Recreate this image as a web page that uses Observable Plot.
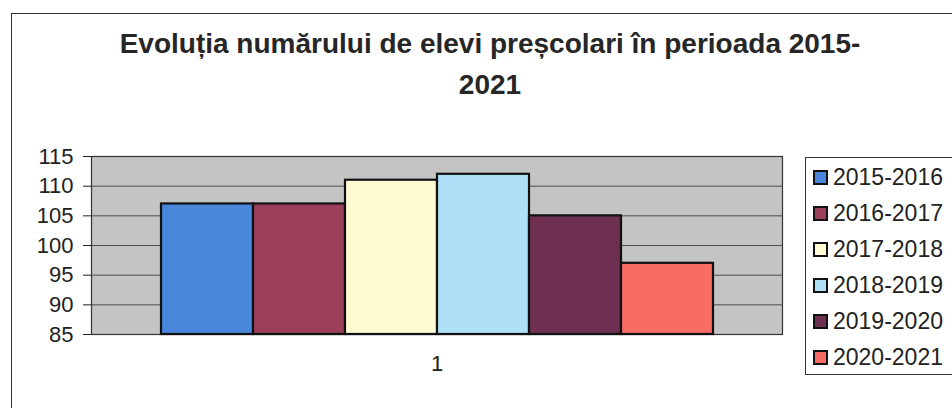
<!DOCTYPE html>
<html>
<head>
<meta charset="utf-8">
<script src="https://cdn.jsdelivr.net/npm/d3@7"></script>
<script src="https://cdn.jsdelivr.net/npm/@observablehq/plot@0.6"></script>
<style>
  html, body { margin: 0; padding: 0; background: #fff; }
  #wrap { position: relative; width: 952px; height: 408px; overflow: hidden; font-family: "Liberation Sans", Arial, sans-serif; color: #222; }
  #border { position: absolute; left: 11px; top: 13px; width: 1100px; height: 600px; border: 1px solid #333; box-sizing: border-box; }
  #title { position: relative; height: 120px; width: 980px; box-sizing: border-box; padding-top: 23px; text-align: center; font-weight: bold; font-size: 28px; line-height: 41px; color: #262626; }
  #chart { position: relative; }
  #legend { position: absolute; left: 805px; top: 157px; width: 170px; height: 218px; border: 1px solid #333; background: #fff; box-sizing: border-box; padding-top: 1px; }
  .item { height: 36px; display: flex; align-items: center; font-size: 23px; color: #222; }
  .sw { width: 11px; height: 11px; border: 2px solid #111; margin-left: 7px; margin-right: 5px; flex: none; }
</style>
</head>
<body>
<div id="wrap">
  <div id="border"></div>
  <div id="title">Evoluția numărului de elevi preșcolari în perioada 2015-<br>2021</div>
  <div id="chart"></div>
  <div id="legend"></div>
</div>
<script>
const seasons = ["2015-2016", "2016-2017", "2017-2018", "2018-2019", "2019-2020", "2020-2021"];
const values = [107, 107, 111, 112, 105, 97];
const colors = ["#4a86dc", "#9b3f5a", "#fffbd2", "#aee0f8", "#6e3050", "#f86c64"];
const yDomain = [85, 115];
const yTicks = [85, 90, 95, 100, 105, 110, 115];
const categoryLabel = ["1"];

const data = seasons.map((s, i) => ({season: s, value: values[i], color: colors[i]}));

const chart = Plot.plot({
  width: 952,
  height: 288,
  marginTop: 36,
  marginBottom: 74,
  marginLeft: 91,
  marginRight: 170,
  style: {fontFamily: "Liberation Sans, Arial, sans-serif", fontSize: "22px", color: "#222", background: "transparent", overflow: "visible"},
  x: {domain: seasons, paddingInner: 0, paddingOuter: 0.727, axis: null},
  y: {domain: yDomain, ticks: yTicks, tickSize: 8, tickPadding: 10, label: null},
  marks: [
    Plot.frame({fill: "#c4c4c4", stroke: "#333", strokeWidth: 1.2}),
    Plot.ruleY(yTicks.slice(1, -1), {stroke: "#3a3a3a", strokeWidth: 1, strokeOpacity: 0.85}),
    Plot.barY(data, {x: "season", y1: yDomain[0], y2: "value", fill: "color", stroke: "#111", strokeWidth: 2.2}),
    Plot.text(categoryLabel, {frameAnchor: "bottom", dy: 36, fontSize: 22, fill: "#222"})
  ]
});
document.getElementById("chart").appendChild(chart);

const legend = document.getElementById("legend");
seasons.forEach((s, i) => {
  const row = document.createElement("div");
  row.className = "item";
  const sw = document.createElement("span");
  sw.className = "sw";
  sw.style.background = colors[i];
  const t = document.createElement("span");
  t.textContent = s;
  row.appendChild(sw);
  row.appendChild(t);
  legend.appendChild(row);
});
</script>
</body>
</html>
